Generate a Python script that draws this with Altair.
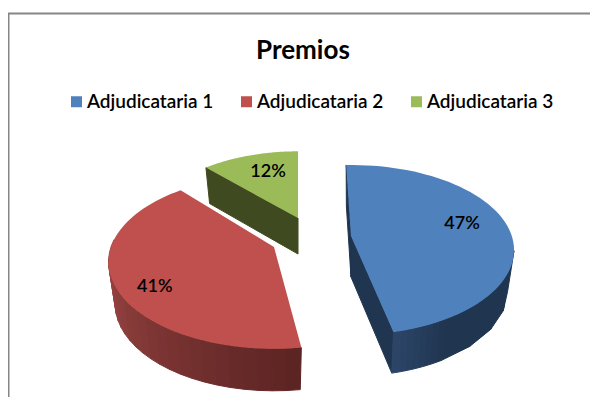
import math
import altair as alt

# Data
names = ["Adjudicataria 1", "Adjudicataria 2", "Adjudicataria 3"]
shares = [47, 41, 12]
labels = ["47%", "41%", "12%"]
top_colors = ["#4f81bd", "#c0504d", "#9bbb59"]

# Drawing set-up: page pixel minus the 8px margin
OX, OY = 8, 8
apex = {0: (351, 236), 1: (274, 247), 2: (298, 218)}
start_deg = {0: -2.0, 1: 172.0, 2: 316.8}
radius = {0: 1.0, 1: 1.0, 2: 0.93}
depth = {0: 41, 1: 42, 2: 36}
persp = {0: 0.165, 1: 0.172, 2: 0.165}
AX, BY = {0: 160.8, 1: 163.0, 2: 160.8}, {0: 82.7, 1: 84.3, 2: 82.7}
label_pos = {0: (0.725, 77.7), 1: (0.806, 237.0), 2: (0.645, 341.5)}


def rim(i, deg, r=None, lower=False):
    r = radius[i] if r is None else r
    t = math.radians(deg)
    u, v = r * math.sin(t), -r * math.cos(t)
    w = 1 - persp[i] * v
    x = AX[i] * u / w * (0.96 if lower else 1.0)
    y = BY[i] * v / w + (depth[i] if lower else 0)
    return [apex[i][0] + x - OX, apex[i][1] + y - OY]


def centre(i, lower=False):
    return [apex[i][0] - OX, apex[i][1] - OY + (depth[i] if lower else 0)]


def feature(pts, color, name=None):
    ring = pts + [pts[0]]
    return {
        "type": "Feature",
        "geometry": {"type": "Polygon", "coordinates": [ring]},
        "properties": {"color": color, "name": name},
    }


def sweep(i):
    return shares[i] * 3.6


def mix(c1, c2, f):
    a = [int(c1[k:k + 2], 16) for k in (1, 3, 5)]
    b = [int(c2[k:k + 2], 16) for k in (1, 3, 5)]
    return "#%02x%02x%02x" % tuple(round(p + (q - p) * f) for p, q in zip(a, b))


def wall_strips(i, d0, d1, c0, c1, n=24):
    out = []
    for k in range(n):
        a = d0 + (d1 - d0) * k / n
        b = d0 + (d1 - d0) * (k + 1) / n
        col = mix(c0, c1, (k + 0.5) / n)
        out.append(feature([rim(i, a), rim(i, b), rim(i, b, lower=True), rim(i, a, lower=True)], col))
    return out


def face(i, deg, color):
    return feature([centre(i), rim(i, deg), rim(i, deg, lower=True), centre(i, lower=True)], color)


def top(i):
    s = start_deg[i]
    n = 60
    pts = [centre(i)] + [rim(i, s + sweep(i) * k / n) for k in range(n + 1)]
    return feature(pts, top_colors[i], names[i])


# green: only the cut face towards the viewer shows
walls_green = [face(2, start_deg[2], "#404a20")]
# red: outer wall, lit at the left, dark at the right
walls_red = wall_strips(1, 275, start_deg[1], "#a54b48", "#5a2322")
# blue: cut faces and outer wall
walls_blue = [face(0, start_deg[0], "#1f3550"), face(0, start_deg[0] + sweep(0), "#1f3550")]
walls_blue += wall_strips(0, 100, 150, "#1f3550", "#1f3550", n=4)
walls_blue += wall_strips(0, 150, start_deg[0] + sweep(0), "#1f3550", "#2d4669", n=8)

proj = alt.Projection(type="identity", scale=1, translate=[0, 0])


def wall_layer(feats):
    return alt.Chart(alt.Data(values=feats)).mark_geoshape(strokeWidth=1).encode(
        fill=alt.Color("properties.color:N", scale=None, legend=None),
        stroke=alt.Color("properties.color:N", scale=None, legend=None),
    ).project(**proj.to_dict())


def top_layer(i):
    return alt.Chart(alt.Data(values=[top(i)])).mark_geoshape(strokeWidth=0).encode(
        color=alt.Color(
            "properties.name:N",
            scale=alt.Scale(domain=names, range=top_colors),
            legend=alt.Legend(
                title=None, orient="none", legendX=59, legendY=84, direction="horizontal",
                symbolType="square", symbolSize=121, symbolStrokeWidth=0,
                labelFont="Lato", labelFontSize=19, labelFontWeight=600, labelColor="#000000",
                labelLimit=200, columnPadding=23, labelOffset=1, columns=3,
            ),
        )
    ).project(**proj.to_dict())


label_rows = []
for i, lab in enumerate(labels):
    r, d = label_pos[i]
    px = rim(i, d, r=r)
    label_rows.append({"label": lab, "px": px[0], "py": px[1]})

text = alt.Chart(alt.Data(values=label_rows)).mark_text(
    font="Lato", fontSize=18, fontWeight=600, color="#000000", align="center", baseline="middle"
).encode(
    x=alt.X("px:Q", scale=None, axis=None),
    y=alt.Y("py:Q", scale=None, axis=None),
    text="label:N",
)

frame_top = alt.Chart(alt.Data(values=[{"a": 0}])).mark_rule(color="#868686", strokeWidth=2).encode(
    x=alt.value(0), x2=alt.value(582), y=alt.value(5.5)
)
frame_left = alt.Chart(alt.Data(values=[{"a": 0}])).mark_rule(color="#868686", strokeWidth=2).encode(
    x=alt.value(0.5), y=alt.value(5), y2=alt.value(389)
)

chart = alt.layer(
    frame_top,
    frame_left,
    wall_layer(walls_green),
    top_layer(2),
    wall_layer(walls_red),
    top_layer(1),
    wall_layer(walls_blue),
    top_layer(0),
    text,
).properties(
    width=582,
    height=389,
    padding=0,
    autosize=alt.AutoSizeParams(type="none"),
    title=alt.Title(
        "Premios", font="Lato", fontSize=26, fontWeight="bold", color="#000000",
        anchor="start", dx=249, dy=86, baseline="bottom",
    ),
).configure_view(stroke=None)

chart.save("out.html", embed_options={"renderer": "svg", "actions": False})
